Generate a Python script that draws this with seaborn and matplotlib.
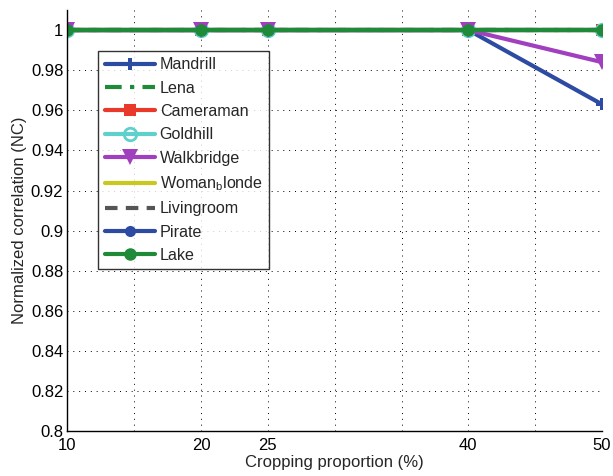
import matplotlib
matplotlib.use("Agg")
import matplotlib.pyplot as plt
import seaborn as sns
import pandas as pd

# Cropping proportions tested (%)
crop = [10, 20, 25, 40, 50]

# Normalized correlation per test image
mandrill = [1.0, 1.0, 1.0, 1.0, 0.963]
lena = [1.0, 1.0, 1.0, 1.0, 1.0]
cameraman = [1.0, 1.0, 1.0, 1.0, 1.0]
goldhill = [1.0, 1.0, 1.0, 1.0, 1.0]
walkbridge = [1.0, 1.0, 1.0, 1.0, 0.984]
woman_blonde = [1.0, 1.0, 1.0, 1.0, 1.0]
livingroom = [1.0, 1.0, 1.0, 1.0, 1.0]
pirate = [1.0, 1.0, 1.0, 1.0, 1.0]
lake = [1.0, 1.0, 1.0, 1.0, 1.0]

names = ["Mandrill", "Lena", "Cameraman", "Goldhill", "Walkbridge",
         r"Woman$_\mathregular{b}$londe", "Livingroom", "Pirate", "Lake"]
series = [mandrill, lena, cameraman, goldhill, walkbridge,
          woman_blonde, livingroom, pirate, lake]

xtick_pos = [10, 15, 20, 25, 30, 35, 40, 45, 50]
xtick_labels = ["10", "", "20", "25", "", "", "40", "", "50"]
ytick_pos = [0.8, 0.82, 0.84, 0.86, 0.88, 0.9, 0.92, 0.94, 0.96, 0.98, 1.0]
ytick_labels = ["0.8", "0.82", "0.84", "0.86", "0.88", "0.9",
                "0.92", "0.94", "0.96", "0.98", "1"]

styles = [
    dict(color="#2e4ba3", marker="P", linestyle="-", markersize=9, mfc="#2e4ba3", mew=0),
    dict(color="#1f8a38", marker=None, linestyle=(0, (4, 2, 1, 2)), markersize=0),
    dict(color="#e8392a", marker="s", linestyle="-", markersize=8, mfc="#e8392a", mew=0),
    dict(color="#5fd0cb", marker="o", linestyle="-", markersize=9, mfc="none", mew=2),
    dict(color="#a040bf", marker="v", linestyle="-", markersize=11, mfc="#a040bf", mew=0),
    dict(color="#c8c81e", marker=None, linestyle="-", markersize=0),
    dict(color="#555555", marker=None, linestyle=(0, (3, 2)), markersize=0),
    dict(color="#2e4ba3", marker="o", linestyle="-", markersize=8, mfc="#2e4ba3", mew=0),
    dict(color="#1f8a38", marker="o", linestyle="-", markersize=9, mfc="#1f8a38", mew=0),
]

sns.set_theme(style="white")
plt.rcParams["font.family"] = ["Liberation Sans", "DejaVu Sans"]
plt.rcParams["mathtext.fontset"] = "custom"
plt.rcParams["mathtext.rm"] = "Liberation Sans"

fig = plt.figure(figsize=(6.13, 4.76), dpi=100)
ax = fig.add_axes([0.110, 0.094, 0.872, 0.885])

for name, vals, st in zip(names, series, styles):
    df = pd.DataFrame({"crop": crop, "nc": vals})
    sns.lineplot(data=df, x="crop", y="nc", ax=ax, label=name,
                 color=st["color"], linewidth=3,
                 marker=st["marker"] if st["marker"] else None,
                 markersize=st["markersize"],
                 markerfacecolor=st.get("mfc", st["color"]),
                 markeredgecolor=st["color"],
                 markeredgewidth=st.get("mew", 0))
    ax.lines[-1].set_linestyle(st["linestyle"])

ax.set_xlim(10, 50)
ax.set_ylim(0.8, 1.01)
ax.set_xticks(xtick_pos)
ax.set_xticklabels(xtick_labels, fontsize=12)
ax.set_yticks(ytick_pos)
ax.set_yticklabels(ytick_labels, fontsize=12)
ax.tick_params(direction="in", length=3, width=0.8, colors="black", pad=3)
ax.tick_params(axis="x", pad=5)
ax.grid(True, linestyle=(0, (1, 5)), color="black", linewidth=0.7)
for side in ["top", "right"]:
    ax.spines[side].set_visible(False)
for side in ["left", "bottom"]:
    ax.spines[side].set_color("black")
    ax.spines[side].set_linewidth(1.0)

ax.set_xlabel("Cropping proportion (%)", fontsize=12, labelpad=1)
ax.set_ylabel("Normalized correlation (NC)", fontsize=12, labelpad=3)

leg = ax.legend(loc="upper left", bbox_to_anchor=(0.058, 0.903),
                fontsize=11.6, frameon=True, fancybox=False,
                handlelength=3.1, labelspacing=0.52, borderpad=0.4,
                handletextpad=0.3, borderaxespad=0)
leg.get_frame().set_edgecolor("black")
leg.get_frame().set_linewidth(1.0)

fig.savefig("out.png", dpi=100)
